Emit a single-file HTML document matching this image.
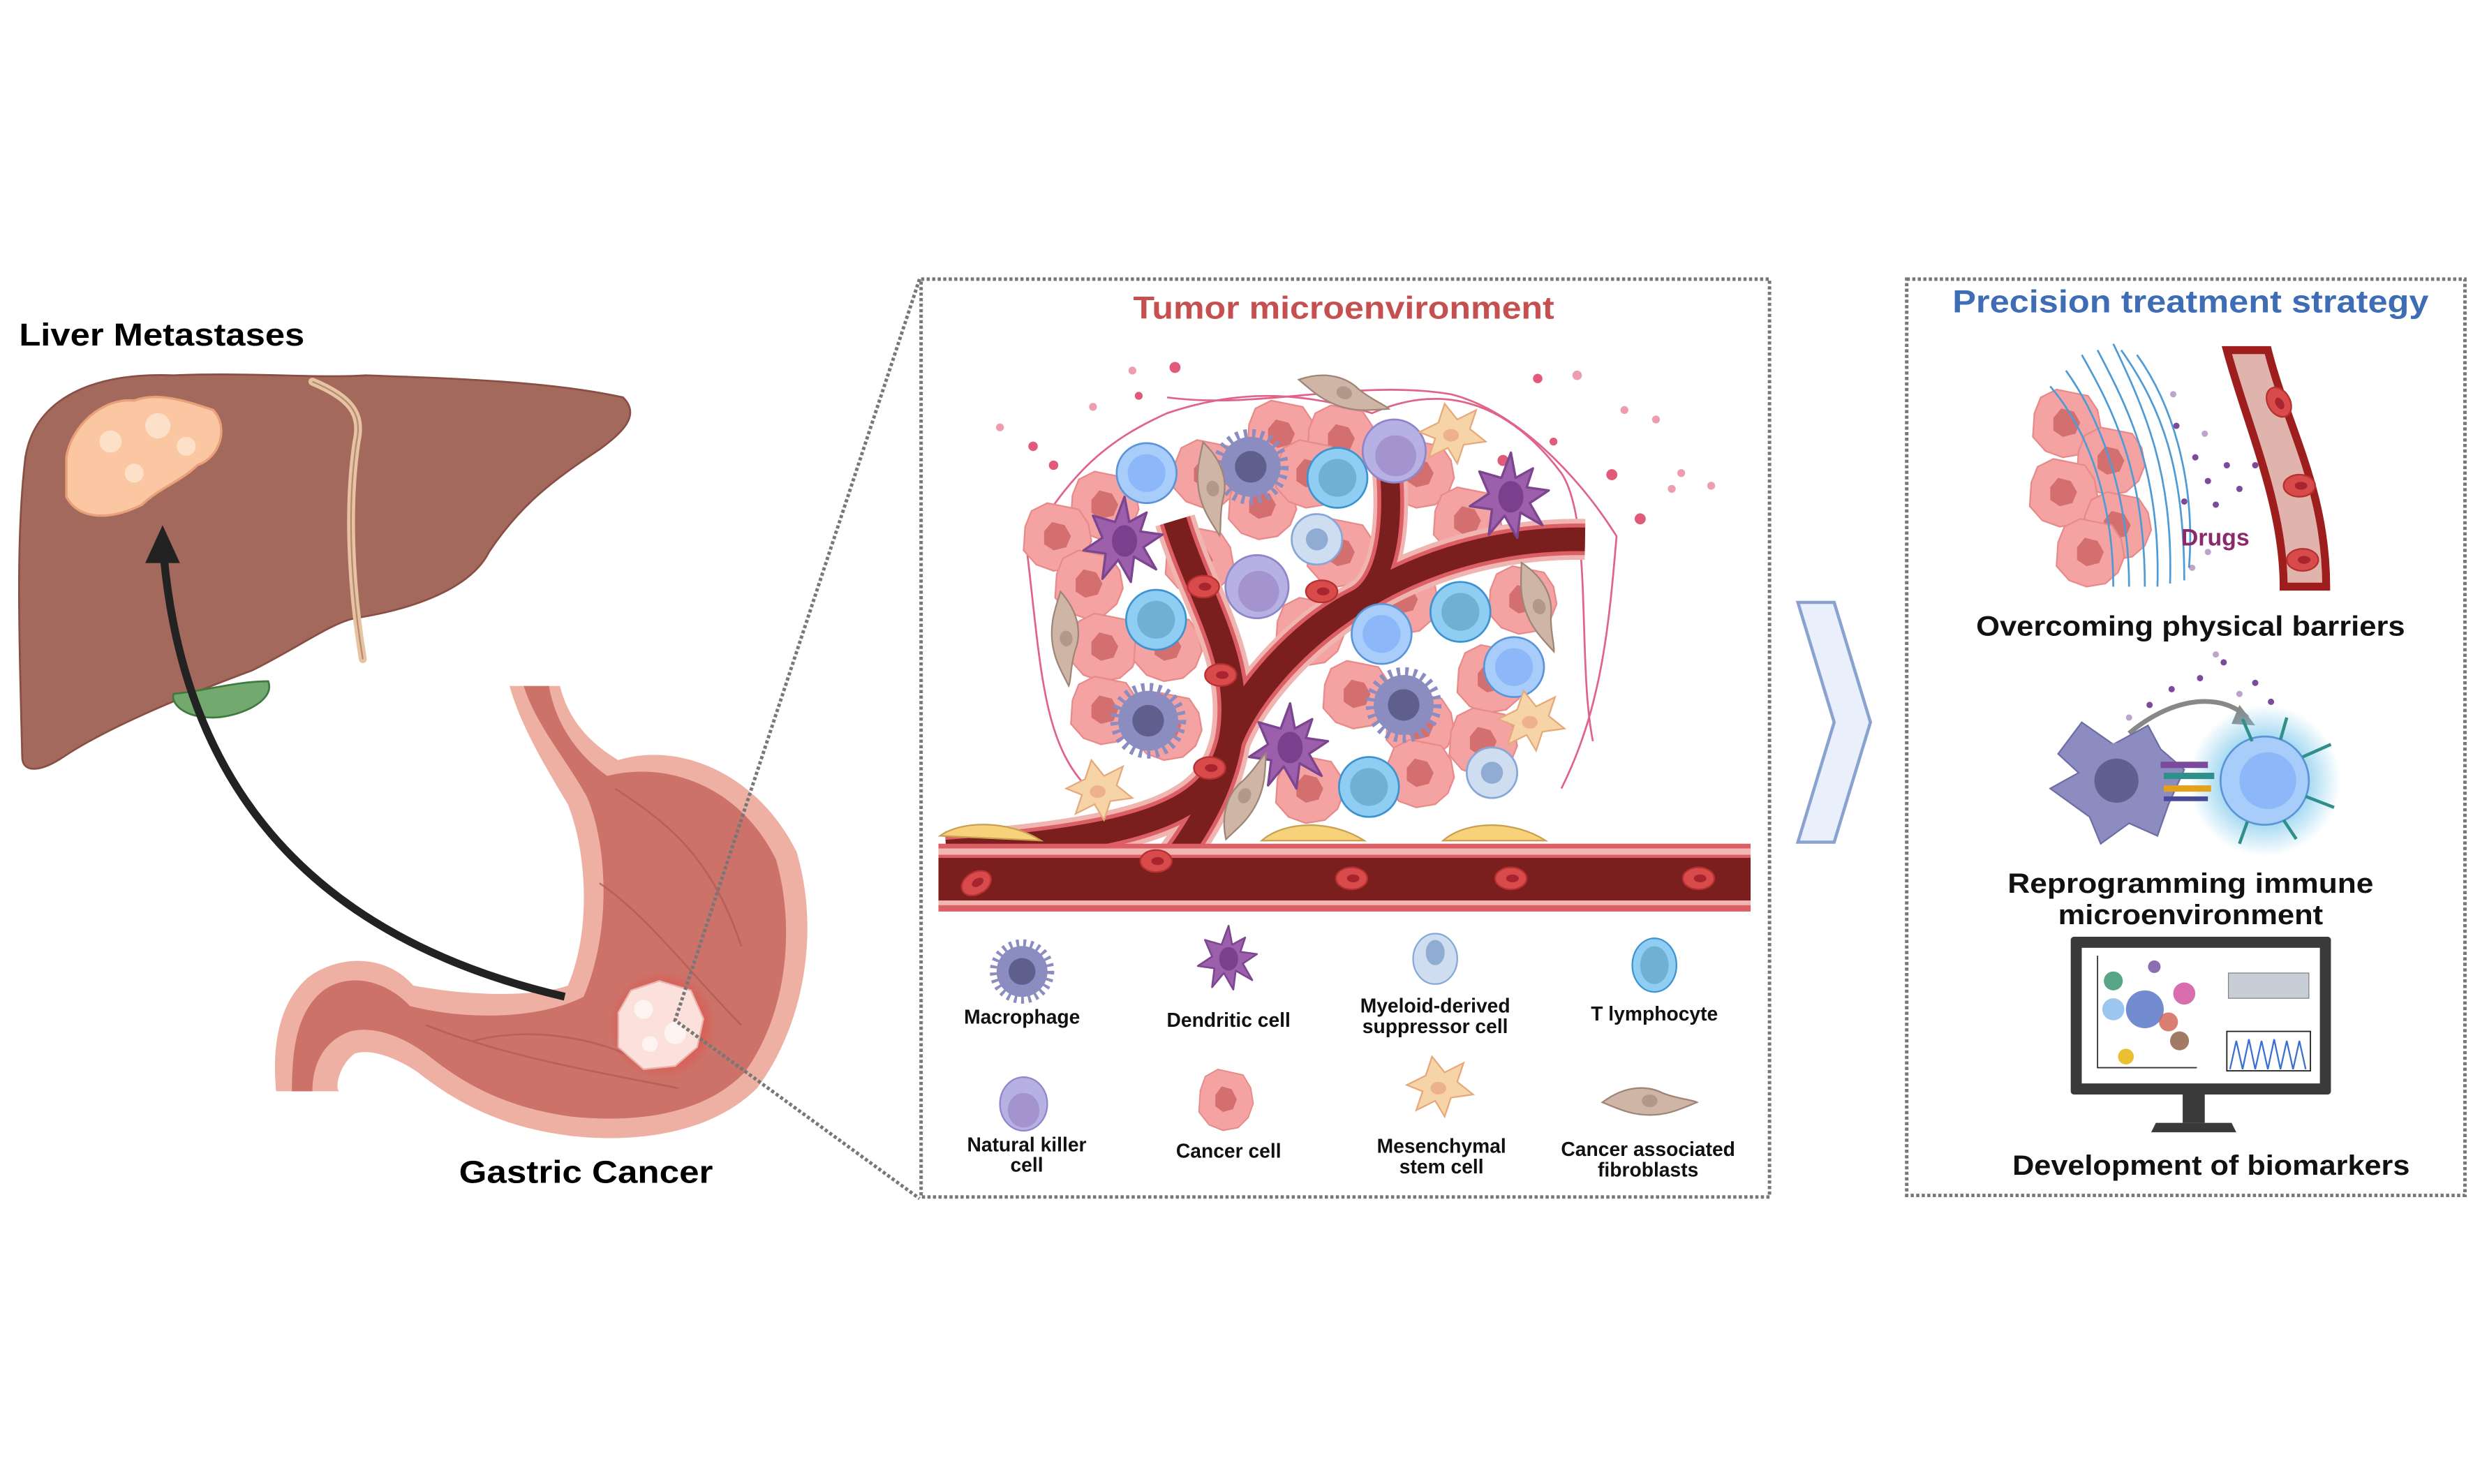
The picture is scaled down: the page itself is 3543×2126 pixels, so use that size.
<!DOCTYPE html>
<html><head><meta charset="utf-8"><style>
html,body{margin:0;padding:0;background:#fff}
svg{display:block}
text{font-family:"Liberation Sans",sans-serif;font-weight:bold}
.n{font-family:"Liberation Sans Narrow","Liberation Sans",sans-serif;font-weight:bold;font-size:12.5px;fill:#111;text-anchor:middle}
</style></head><body>
<svg width="3543" height="2126" viewBox="0 0 1568 941" xmlns="http://www.w3.org/2000/svg">
<defs>
<radialGradient id="glow"><stop offset="0" stop-color="#ff2020" stop-opacity=".9"/><stop offset="1" stop-color="#ff2020" stop-opacity="0"/></radialGradient>
<radialGradient id="bglow"><stop offset="0.5" stop-color="#7cc8ec" stop-opacity=".8"/><stop offset="1" stop-color="#7cc8ec" stop-opacity="0"/></radialGradient>
<g id="cc"><path d="M-20,-6 L-16,-16 L-6,-21 L4,-19 L14,-17 L20,-8 L22,3 L18,13 L10,20 L-2,22 L-13,18 L-21,9 Z" fill="#f4a2a2" stroke="#e88a8a" stroke-width="1"/><path d="M-8,-3 L-3,-9 L5,-7 L9,0 L6,7 L-2,9 L-8,5 Z" fill="#d36f6f"/></g>
<g id="tc"><circle r="19" fill="#8fcdf2" stroke="#3d93d0" stroke-width="1.2"/><circle r="12" fill="#6fb0d3"/></g>
<g id="tc2"><circle r="19" fill="#a9cdfb" stroke="#5b95d8" stroke-width="1.2"/><circle r="12" fill="#8cb7f8"/></g>
<g id="mac"><circle r="20" fill="none" stroke="#8b8cc0" stroke-width="8" stroke-dasharray="2 3"/><circle r="19" fill="#8b8cc0"/><circle r="10" fill="#5e5f8d"/></g>
<g id="dc"><path d="M0,-28 L3,-12 L14,-18 L10,-6 L24,-4 L12,4 L20,18 L6,10 L4,26 L-4,12 L-14,24 L-12,8 L-26,6 L-14,-2 L-20,-16 L-6,-12 Z" fill="#9c5fab" stroke="#7c4590" stroke-width="1.5" stroke-linejoin="round"/><ellipse rx="8" ry="10" fill="#7a3f8d"/></g>
<g id="nk"><circle r="20" fill="#b6b1e2" stroke="#8d86cb" stroke-width="1.2"/><ellipse cx="1" cy="3" rx="13" ry="13" fill="#a394cf"/></g>
<g id="md"><circle r="16" fill="#cfddf1" stroke="#86a8d8" stroke-width="1.2"/><circle r="7" fill="#91acd2"/></g>
<g id="msc"><path d="M-20,-2 L-8,-8 L-4,-20 L4,-10 L16,-16 L12,-4 L22,4 L8,6 L4,18 L-2,8 L-14,14 L-10,2 Z" fill="#f7d3a8" stroke="#e5a97a" stroke-width="1"/><ellipse rx="5" ry="4" fill="#eeb18d"/></g>
<g id="caf"><path d="M-30,0 C-14,-12 0,-10 8,-6 C18,-2 26,-2 30,0 C20,4 12,8 0,8 C-12,8 -20,4 -30,0 Z" fill="#cfb5a5" stroke="#9e8578" stroke-width="1"/><ellipse cx="0" cy="-1" rx="5" ry="4" fill="#b19888"/></g>
<g id="rbc"><ellipse rx="10" ry="7" fill="#d94b4b" stroke="#b53030" stroke-width="1"/><ellipse cx="1" rx="4" ry="2.5" fill="#a82530"/></g>
</defs>

<!-- LEFT -->
<text x="12" y="219" font-size="20" textLength="181" lengthAdjust="spacingAndGlyphs">Liver Metastases</text>
<path d="M16,290 C22,252 60,236 110,238 C160,236 200,240 232,238 C290,240 350,242 395,252 C405,262 398,272 380,285 C350,305 330,320 310,350 C300,370 270,385 225,392 C210,395 190,410 160,425 C120,440 70,460 40,480 C25,490 14,490 14,480 C12,400 10,340 16,290 Z" fill="#a3695c" stroke="#8a4f44" stroke-width="1.2"/>
<path d="M170,432 C175,445 150,455 135,455 C115,455 108,445 110,440 C130,438 150,432 170,432 Z" fill="#73a86e" stroke="#3f7a3e" stroke-width="1.2"/>
<path d="M198,242 C222,252 230,262 226,280 C220,320 222,370 230,418" fill="none" stroke="#e6c3a3" stroke-width="5" stroke-linecap="round"/>
<path d="M198,242 C222,252 230,262 226,280 C220,320 222,370 230,418" fill="none" stroke="#b98a70" stroke-width="1"/>
<path d="M42,290 C45,270 65,252 85,254 C100,248 120,255 135,260 C145,270 140,290 125,295 C115,305 100,310 90,320 C70,330 50,330 42,315 Z" fill="#fbc7a3" stroke="#eaa07a" stroke-width="1.5"/>
<circle cx="70" cy="280" r="7" fill="#fde0c8"/><circle cx="100" cy="270" r="8" fill="#fde0c8"/><circle cx="85" cy="300" r="6" fill="#fde0c8"/><circle cx="118" cy="283" r="6" fill="#fde0c8"/>

<!-- stomach -->
<path d="M323,435 L355,435 C360,455 372,470 392,482 C430,470 480,490 505,540 C520,590 510,650 480,690 C450,720 400,725 360,720 C320,715 290,700 265,680 C250,670 235,665 225,668 C215,675 212,690 215,692 L175,692 C172,660 178,635 195,620 C215,605 245,605 262,625 C300,632 340,632 360,625 C375,590 372,540 360,510 C345,485 330,460 323,435 Z" fill="#efb0a4"/>
<path d="M332,435 L348,435 C352,458 365,478 385,492 C425,482 470,500 492,545 C505,590 498,645 472,680 C445,708 400,712 362,708 C325,703 298,690 275,672 C258,658 238,650 222,654 C205,660 198,675 198,692 L185,692 C185,660 190,640 205,628 C222,616 245,622 260,638 C300,648 345,645 370,632 C388,590 385,535 372,505 C358,480 340,460 332,435 Z" fill="#cc7268"/>
<path d="M390,500 C420,520 450,540 470,600 M380,560 C410,580 440,620 470,650 M270,650 C320,670 380,680 430,690 M300,660 C340,650 380,660 400,670" stroke="#b05a52" stroke-width="1.2" fill="none" opacity=".7"/>
<circle cx="420" cy="650" r="34" fill="url(#glow)"/>
<path d="M392,642 L400,628 L418,622 L438,628 L446,646 L442,664 L428,676 L408,678 L392,664 Z" fill="#fbe0dc" stroke="#eab2ad" stroke-width="1"/>
<circle cx="408" cy="640" r="6" fill="#fff" opacity=".6"/><circle cx="428" cy="655" r="7" fill="#fff" opacity=".6"/><circle cx="412" cy="662" r="5" fill="#fff" opacity=".6"/>
<path d="M358,632 C220,600 120,520 104,355" fill="none" stroke="#222" stroke-width="5"/>
<path d="M92,357 L103,333 L114,357 Z" fill="#222"/>
<text x="291" y="750" font-size="20" textLength="161" lengthAdjust="spacingAndGlyphs">Gastric Cancer</text>

<!-- dotted connectors -->
<path d="M583,177 L428,647 L583,760" fill="none" stroke="#777" stroke-width="2.2" stroke-dasharray="2 1.5"/>

<!-- MIDDLE BOX -->
<rect x="584" y="177" width="538" height="582" fill="#fff" stroke="#777" stroke-width="2.2" stroke-dasharray="2 1.5"/>
<text x="852" y="202" font-size="20" fill="#c4504f" text-anchor="middle" textLength="267" lengthAdjust="spacingAndGlyphs">Tumor microenvironment</text>
<g fill="#e25a7a">
<circle cx="745" cy="233" r="3.5"/><circle cx="668" cy="295" r="3"/><circle cx="655" cy="283" r="3"/><circle cx="722" cy="251" r="2.5"/><circle cx="1022" cy="301" r="3.5"/><circle cx="1040" cy="329" r="3.5"/><circle cx="975" cy="240" r="3"/><circle cx="1000" cy="238" r="3" opacity=".6"/><circle cx="1030" cy="260" r="2.5" opacity=".6"/><circle cx="1050" cy="266" r="2.5" opacity=".6"/><circle cx="1066" cy="300" r="2.5" opacity=".6"/><circle cx="634" cy="271" r="2.5" opacity=".6"/><circle cx="693" cy="258" r="2.5" opacity=".6"/><circle cx="718" cy="235" r="2.5" opacity=".6"/><circle cx="953" cy="292" r="3.5"/><circle cx="985" cy="280" r="2.5"/><circle cx="1060" cy="310" r="2.5" opacity=".6"/><circle cx="1085" cy="308" r="2.5" opacity=".6"/>
</g>
<g fill="none" stroke="#e0648a" stroke-width="1.2">
<path d="M655,340 C680,300 700,280 740,262 C790,245 830,250 870,262 C920,240 960,260 990,300 C1010,330 1000,420 1010,470"/>
<path d="M650,340 C660,420 660,470 690,500"/>
<path d="M740,252 C800,260 860,240 920,250 C960,260 1000,300 1025,340 C1020,400 1015,450 990,500"/>
</g>
<use href="#cc" x="700" y="320"/><use href="#cc" x="670" y="340"/><use href="#cc" x="690" y="370"/><use href="#cc" x="700" y="410"/><use href="#cc" x="700" y="450"/><use href="#cc" x="740" y="410"/><use href="#cc" x="765" y="300"/><use href="#cc" x="812" y="275"/><use href="#cc" x="850" y="278"/><use href="#cc" x="800" y="320"/><use href="#cc" x="760" y="355"/><use href="#cc" x="830" y="300"/><use href="#cc" x="850" y="350"/><use href="#cc" x="900" y="300"/><use href="#cc" x="930" y="330"/><use href="#cc" x="890" y="380"/><use href="#cc" x="830" y="400"/><use href="#cc" x="860" y="440"/><use href="#cc" x="900" y="460"/><use href="#cc" x="945" y="430"/><use href="#cc" x="965" y="380"/><use href="#cc" x="900" y="490"/><use href="#cc" x="830" y="500"/><use href="#cc" x="940" y="470"/><use href="#cc" x="740" y="460"/>
<g fill="none" stroke-linecap="butt">
<path d="M745,330 C760,380 790,420 780,470 C770,510 740,530 600,540" stroke="#f0b5b0" stroke-width="26"/>
<path d="M780,470 C800,420 880,340 1005,342" stroke="#f0b5b0" stroke-width="26"/>
<path d="M880,290 C885,330 880,370 860,380 C820,400 790,440 780,460" stroke="#f0b5b0" stroke-width="22"/>
<path d="M780,470 C775,500 760,525 745,545" stroke="#f0b5b0" stroke-width="26"/>
<path d="M745,330 C760,380 790,420 780,470 C770,510 740,530 600,540" stroke="#dd5f66" stroke-width="20"/>
<path d="M780,470 C800,420 880,340 1005,342" stroke="#dd5f66" stroke-width="20"/>
<path d="M880,290 C885,330 880,370 860,380 C820,400 790,440 780,460" stroke="#dd5f66" stroke-width="17"/>
<path d="M780,470 C775,500 760,525 745,545" stroke="#dd5f66" stroke-width="20"/>
<path d="M745,330 C760,380 790,420 780,470 C770,510 740,530 600,540" stroke="#7a1e1e" stroke-width="15"/>
<path d="M780,470 C800,420 880,340 1005,342" stroke="#7a1e1e" stroke-width="15"/>
<path d="M880,290 C885,330 880,370 860,380 C820,400 790,440 780,460" stroke="#7a1e1e" stroke-width="12"/>
<path d="M780,470 C775,500 760,525 745,545" stroke="#7a1e1e" stroke-width="15"/>
</g>
<use href="#rbc" x="763" y="372"/><use href="#rbc" x="774" y="428"/><use href="#rbc" x="767" y="487"/><use href="#rbc" x="838" y="375"/>
<use href="#tc2" x="727" y="300"/><use href="#mac" x="793" y="296"/><use href="#tc" x="848" y="303"/><use href="#nk" x="884" y="286"/><use href="#msc" x="920" y="276"/><use href="#dc" x="958" y="315"/><use href="#dc" x="713" y="343"/><use href="#md" x="835" y="342"/><use href="#nk" x="797" y="372"/><use href="#tc" x="733" y="393"/><use href="#tc2" x="876" y="402"/><use href="#tc" x="926" y="388"/><use href="#tc2" x="960" y="423"/><use href="#mac" x="728" y="457"/><use href="#mac" x="890" y="447"/><use href="#dc" x="818" y="474"/><use href="#tc" x="868" y="499"/><use href="#md" x="946" y="490"/><use href="#msc" x="696" y="502"/><use href="#msc" x="970" y="458"/>
<use href="#caf" x="852" y="250" transform="rotate(18 852 250)"/><use href="#caf" x="768" y="310" transform="rotate(80 768 310)"/><use href="#caf" x="675" y="405" transform="rotate(85 675 405)"/><use href="#caf" x="975" y="385" transform="rotate(70 975 385)"/><use href="#caf" x="790" y="505" transform="rotate(-65 790 505)"/>
<path d="M596,530 C610,520 640,520 660,533 Z" fill="#f8d27a" stroke="#c9a050" stroke-width="1"/>
<path d="M800,533 C815,520 845,520 865,533 Z" fill="#f8d27a" stroke="#c9a050" stroke-width="1"/>
<path d="M915,533 C930,520 960,520 980,533 Z" fill="#f8d27a" stroke="#c9a050" stroke-width="1"/>
<rect x="595" y="535" width="515" height="43" fill="#dc5f66"/>
<rect x="595" y="538" width="515" height="4" fill="#f0b7b2"/>
<rect x="595" y="544" width="515" height="27" fill="#7a1e1e"/>
<rect x="595" y="571" width="515" height="3" fill="#f0b7b2"/>
<use href="#rbc" x="619" y="560" transform="rotate(-30 619 560)"/><use href="#rbc" x="733" y="546"/><use href="#rbc" x="857" y="557"/><use href="#rbc" x="958" y="557"/><use href="#rbc" x="1077" y="557"/>
<use href="#mac" x="648" y="616" transform="translate(648 616) scale(.85) translate(-648 -616)"/>
<use href="#dc" x="779" y="608" transform="translate(779 608) scale(.75) translate(-779 -608)"/>
<ellipse cx="910" cy="608" rx="14" ry="16" fill="#cfddf1" stroke="#86a8d8" stroke-width="1"/><ellipse cx="910" cy="604" rx="6" ry="8" fill="#91acd2"/>
<ellipse cx="1049" cy="612" rx="14" ry="17" fill="#8fcdf2" stroke="#3d93d0" stroke-width="1"/><ellipse cx="1049" cy="612" rx="9" ry="12" fill="#6fb0d3"/>
<ellipse cx="649" cy="700" rx="15" ry="17" fill="#b6b1e2" stroke="#8d86cb" stroke-width="1"/><ellipse cx="649" cy="704" rx="10" ry="11" fill="#a394cf"/>
<use href="#cc" x="777" y="697" transform="translate(777 697) scale(.8 .9) translate(-777 -697)"/>
<use href="#msc" x="912" y="690"/>
<use href="#caf" x="1046" y="699"/>
<text class="n" x="648" y="649">Macrophage</text>
<text class="n" x="779" y="651">Dendritic cell</text>
<text class="n" x="910" y="642">Myeloid-derived</text><text class="n" x="910" y="655">suppressor cell</text>
<text class="n" x="1049" y="647">T lymphocyte</text>
<text class="n" x="651" y="730">Natural killer</text><text class="n" x="651" y="743">cell</text>
<text class="n" x="779" y="734">Cancer cell</text>
<text class="n" x="914" y="731">Mesenchymal</text><text class="n" x="914" y="744">stem cell</text>
<text class="n" x="1045" y="733">Cancer associated</text><text class="n" x="1045" y="746">fibroblasts</text>

<path d="M1140,382 L1163,382 L1186,458 L1163,534 L1140,534 L1163,458 Z" fill="#eaf0fb" stroke="#8aa2d0" stroke-width="2"/>

<rect x="1209" y="177" width="354" height="581" fill="#fff" stroke="#777" stroke-width="2.2" stroke-dasharray="2 1.5"/>
<text x="1389" y="198" font-size="20" fill="#3e6db5" text-anchor="middle" textLength="302" lengthAdjust="spacingAndGlyphs">Precision treatment strategy</text>
<use href="#cc" x="1310" y="268"/><use href="#cc" x="1338" y="292"/><use href="#cc" x="1308" y="312"/><use href="#cc" x="1342" y="333"/><use href="#cc" x="1325" y="350"/>
<g fill="none" stroke="#4f9bd6" stroke-width="1.2">
<path d="M1320,225 C1340,260 1360,300 1360,372"/><path d="M1330,222 C1350,260 1370,300 1368,372"/><path d="M1340,218 C1360,260 1378,300 1376,370"/><path d="M1310,235 C1335,270 1350,320 1350,372"/><path d="M1345,222 C1372,260 1385,300 1385,368"/><path d="M1300,245 C1330,280 1340,330 1340,372"/><path d="M1355,225 C1380,260 1392,310 1388,360"/>
</g>
<g fill="#7b4a9b"><circle cx="1380" cy="270" r="2"/><circle cx="1392" cy="290" r="2"/><circle cx="1400" cy="305" r="2"/><circle cx="1412" cy="295" r="2"/><circle cx="1420" cy="310" r="2"/><circle cx="1405" cy="320" r="2"/><circle cx="1385" cy="318" r="2"/><circle cx="1398" cy="275" r="2" opacity=".5"/><circle cx="1430" cy="295" r="2"/><circle cx="1378" cy="250" r="2" opacity=".5"/><circle cx="1390" cy="360" r="2" opacity=".5"/><circle cx="1400" cy="350" r="2" opacity=".5"/></g>
<path d="M1412,222 L1438,222 C1450,270 1475,310 1475,372 L1448,372 C1448,320 1425,270 1412,222 Z" fill="#e0b3ac" stroke="#9e1d1d" stroke-width="5"/>
<use href="#rbc" x="1445" y="255" transform="rotate(60 1445 255)"/><use href="#rbc" x="1458" y="308"/><use href="#rbc" x="1460" y="355"/>
<text x="1383" y="346" font-size="15" fill="#8b2a6b">Drugs</text>
<text x="1389" y="403" font-size="17.5" fill="#111" text-anchor="middle" textLength="272" lengthAdjust="spacingAndGlyphs">Overcoming physical barriers</text>
<g fill="#7b4a9b"><circle cx="1363" cy="447" r="2"/><circle cx="1377" cy="437" r="2"/><circle cx="1395" cy="430" r="2"/><circle cx="1410" cy="420" r="2"/><circle cx="1430" cy="433" r="2"/><circle cx="1440" cy="445" r="2"/><circle cx="1405" cy="415" r="2" opacity=".5"/><circle cx="1420" cy="440" r="2" opacity=".5"/><circle cx="1350" cy="455" r="2" opacity=".5"/></g>
<path d="M1350,465 C1380,440 1410,440 1425,455" fill="none" stroke="#888" stroke-width="3"/><path d="M1420,447 L1430,460 L1415,459 Z" fill="#888"/>
<circle cx="1436" cy="495" r="48" fill="url(#bglow)"/>
<path d="M1320,458 L1340,472 L1362,460 L1370,475 L1385,488 L1375,510 L1368,530 L1350,522 L1332,535 L1325,518 L1300,500 L1318,490 L1305,478 Z" fill="#8c8cc0" stroke="#6e6ea6" stroke-width="1"/>
<circle cx="1343" cy="495" r="24" fill="#8c8cc0"/><circle cx="1342" cy="495" r="14" fill="#615f90"/>
<rect x="1370" y="483" width="30" height="4" fill="#7b4a9b"/><rect x="1372" y="490" width="32" height="4" fill="#2f8f8a"/><rect x="1372" y="498" width="30" height="4" fill="#e4a11b"/><rect x="1372" y="505" width="28" height="3" fill="#4a4a9a"/>
<circle cx="1436" cy="495" r="28" fill="#a9cdfb" stroke="#5b95d8" stroke-width="1.2"/><circle cx="1438" cy="495" r="18" fill="#8cb7f8"/>
<g stroke="#2f8f8a" stroke-width="2"><line x1="1460" y1="480" x2="1478" y2="472"/><line x1="1462" y1="505" x2="1480" y2="512"/><line x1="1448" y1="520" x2="1456" y2="532"/><line x1="1428" y1="470" x2="1422" y2="456"/><line x1="1446" y1="469" x2="1450" y2="455"/><line x1="1425" y1="521" x2="1420" y2="535"/></g>
<text x="1389" y="566" font-size="17.5" fill="#111" text-anchor="middle" textLength="232" lengthAdjust="spacingAndGlyphs">Reprogramming immune</text>
<text x="1389" y="586" font-size="17.5" fill="#111" text-anchor="middle" textLength="168" lengthAdjust="spacingAndGlyphs">microenvironment</text>
<rect x="1313" y="594" width="165" height="100" rx="2" fill="#3a3a3a"/>
<rect x="1320" y="601" width="151" height="86" fill="#fff"/>
<rect x="1384" y="694" width="14" height="18" fill="#3a3a3a"/>
<path d="M1367,712 L1415,712 L1418,718 L1364,718 Z" fill="#3a3a3a"/>
<path d="M1330,606 L1330,677 L1393,677" fill="none" stroke="#333" stroke-width=".8"/>
<circle cx="1340" cy="622" r="6" fill="#2f8f6a" opacity=".8"/><circle cx="1340" cy="640" r="7" fill="#9cc6f0"/><circle cx="1360" cy="640" r="12" fill="#5a78c8" opacity=".85"/><circle cx="1385" cy="630" r="7" fill="#d04a9a" opacity=".8"/><circle cx="1375" cy="648" r="6" fill="#d06050" opacity=".8"/><circle cx="1382" cy="660" r="6" fill="#8a5a40" opacity=".8"/><circle cx="1348" cy="670" r="5" fill="#e8c030"/><circle cx="1366" cy="613" r="4" fill="#8a70b0"/>
<rect x="1413" y="617" width="51" height="16" fill="#c8ced8" stroke="#888" stroke-width=".6"/>
<rect x="1412" y="654" width="53" height="25" fill="#fff" stroke="#222" stroke-width=".8"/>
<path d="M1414,678 L1418,660 L1422,678 L1426,659 L1430,678 L1434,660 L1438,678 L1442,659 L1446,678 L1450,660 L1454,678 L1458,660 L1462,678" fill="none" stroke="#3a6fd0" stroke-width="1"/>
<text x="1402" y="745" font-size="17.5" fill="#111" text-anchor="middle" textLength="252" lengthAdjust="spacingAndGlyphs">Development of biomarkers</text>
</svg>
</body></html>
